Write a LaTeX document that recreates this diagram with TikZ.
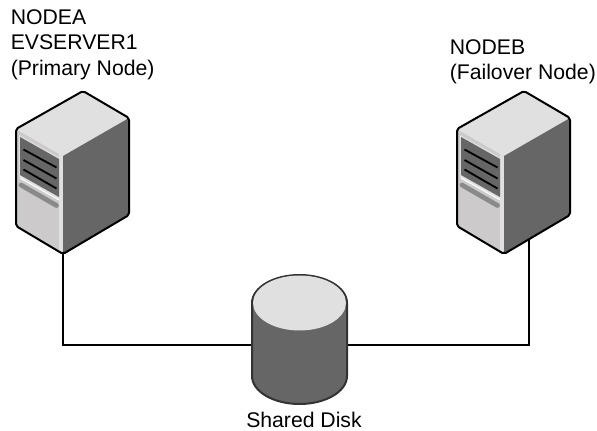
\documentclass[tikz,border=0pt]{standalone}
\usepackage{fontspec}
\setmainfont{Liberation Sans}
\definecolor{topgray}{HTML}{E0E0E0}
\definecolor{frontgray}{HTML}{CCCACB}
\definecolor{sidegray}{HTML}{666666}
\definecolor{slotgray}{HTML}{8A8A8A}
\definecolor{diskline}{HTML}{333333}
\tikzset{
    label text/.style={inner sep=0pt, align=left, font=\fontsize{15.9}{19}\selectfont},
    wire/.style={black, line width=1.1pt},
    outline/.style={black, line width=1.5pt, rounded corners=1.5pt, line join=round},
    vent bar/.style={black, line width=1.4pt},
}
\begin{document}
\begin{tikzpicture}[x=0.75pt, y=-0.75pt]
    \useasboundingbox (0, 0) rectangle (597, 431);
    \coordinate (nodea) at (63, 254);
    \coordinate (nodeb) at (529, 240);
    \coordinate (disk) at (299.5, 345);
    \draw[wire] (nodea) |- (disk) -| (nodeb);
    % the two servers
    \foreach \dx in {0, 441} {
        \begin{scope}[shift={(\dx, 0)}]
            \fill[frontgray] (16, 129) -- (63, 156) -- (63, 254) -- (16, 226) -- cycle;
            \fill[topgray] (59, 154) -- (63, 156) -- (63, 254) -- (59, 252) -- cycle;
            \fill[topgray] (16, 129) -- (83, 91) -- (129, 118) -- (63, 156) -- cycle;
            \fill[sidegray] (63, 156) -- (129, 118) -- (129, 215) -- (63, 254) -- cycle;
            \fill[topgray] (19, 135) -- (60, 158) -- (60, 200) -- (19, 177) -- cycle;
            \fill[sidegray] (20, 137) -- (59, 159) -- (59, 197) -- (20, 175) -- cycle;
            \draw[white, line width=0.75pt] (20, 178) -- (59, 200);
            \draw[vent bar] (23.5, 149.5) -- (56.5, 167.5);
            \draw[vent bar] (23.5, 160) -- (56.5, 178.5);
            \draw[vent bar] (23.5, 169.5) -- (56.5, 188.5);
            \draw[slotgray, line width=3.6pt, line cap=round] (21, 185) -- (56.5, 205.5);
            \draw[outline] (16, 129) -- (83, 91) -- (129, 118) -- (129, 215)
                -- (63, 254) -- (16, 226) -- cycle;
        \end{scope}
    }
    % the disk
    \filldraw[fill=sidegray, draw=diskline, line width=1.5pt] (252, 303) -- (252, 376)
        arc[start angle=180, end angle=0, x radius=47.5, y radius=28]
        -- (347, 303) arc[start angle=0, end angle=-180, x radius=47.5, y radius=28] -- cycle;
    \fill[topgray] (299.5, 303) ellipse[x radius=46.5, y radius=27.5];
    \node[label text, anchor=north west] (labela) at (10.5, 9.5) {NODEA\\EVSERVER1\\(Primary Node)};
    \node[label text, anchor=north west] (labelb) at (449.5, 39) {NODEB\\(Failover Node)};
    \node[label text, anchor=base] (labeldisk) at (304, 427) {Shared Disk};
\end{tikzpicture}
\end{document}
